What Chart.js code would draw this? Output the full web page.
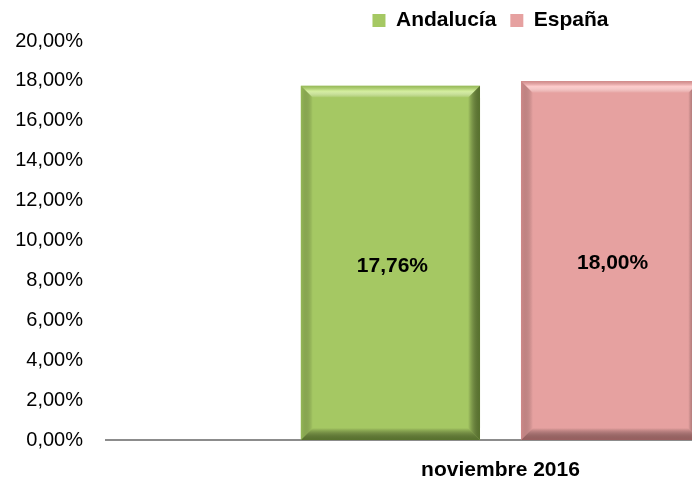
<!DOCTYPE html>
<html>
<head>
<meta charset="utf-8">
<script src="https://cdn.jsdelivr.net/npm/chart.js@4.4.1/dist/chart.umd.min.js"></script>
<style>
  html, body { margin: 0; padding: 0; background: #fff; }
  #frame { width: 692px; height: 482px; overflow: hidden; position: relative; }
  #wrap { width: 895px; height: 482px; position: absolute; left: 0; top: 0; }
</style>
</head>
<body>
<div id="frame"><div id="wrap"><canvas id="chart"></canvas></div></div>
<script>
const categories = ['noviembre 2016'];
const andalucia = [17.76];
const espana = [18.00];
const yTicks = { min: 0, max: 20, step: 2 };

const pct = (v) => v.toFixed(2).replace('.', ',') + '%';
const sans = "'Liberation Sans', Arial, sans-serif";

// shade helper for the bevel look
function bevelColors(i) {
    return i === 0
        ? { light: 'rgba(214,240,160,0.95)', dark: 'rgba(80,105,40,0.9)', side: 'rgba(140,175,80,0.6)' }
        : { light: 'rgba(255,205,205,0.95)', dark: 'rgba(140,85,85,0.85)', side: 'rgba(190,120,120,0.55)' };
}

const bevelPlugin = {
    id: 'bevel',
    afterDatasetsDraw(chart) {
        const ctx = chart.ctx;
        chart.data.datasets.forEach((ds, i) => {
            const meta = chart.getDatasetMeta(i);
            const c = bevelColors(i);
            meta.data.forEach(bar => {
                const { x, y, base, width } = bar.getProps(['x', 'y', 'base', 'width'], true);
                const l = x - width / 2, r = x + width / 2, t = y, b = base;
                const s = 12;
                ctx.save();
                // top
                let g = ctx.createLinearGradient(0, t, 0, t + s);
                g.addColorStop(0, c.side);
                g.addColorStop(0.45, c.light);
                g.addColorStop(1, 'rgba(255,255,255,0)');
                ctx.fillStyle = g;
                ctx.beginPath();
                ctx.moveTo(l, t); ctx.lineTo(r, t); ctx.lineTo(r - s, t + s); ctx.lineTo(l + s, t + s); ctx.closePath();
                ctx.fill();
                // right
                g = ctx.createLinearGradient(r - s, 0, r, 0);
                g.addColorStop(0, 'rgba(0,0,0,0)');
                g.addColorStop(1, c.dark);
                ctx.fillStyle = g;
                ctx.beginPath();
                ctx.moveTo(r, t); ctx.lineTo(r, b); ctx.lineTo(r - s, b - s); ctx.lineTo(r - s, t + s); ctx.closePath();
                ctx.fill();
                // bottom
                g = ctx.createLinearGradient(0, b - s, 0, b);
                g.addColorStop(0, 'rgba(0,0,0,0)');
                g.addColorStop(1, c.dark);
                ctx.fillStyle = g;
                ctx.beginPath();
                ctx.moveTo(l, b); ctx.lineTo(r, b); ctx.lineTo(r - s, b - s); ctx.lineTo(l + s, b - s); ctx.closePath();
                ctx.fill();
                // left
                g = ctx.createLinearGradient(l, 0, l + s, 0);
                g.addColorStop(0, c.side);
                g.addColorStop(1, 'rgba(0,0,0,0)');
                ctx.fillStyle = g;
                ctx.beginPath();
                ctx.moveTo(l, t); ctx.lineTo(l + s, t + s); ctx.lineTo(l + s, b - s); ctx.lineTo(l, b); ctx.closePath();
                ctx.fill();
                ctx.restore();
            });
        });
    }
};

// value labels in the middle of each bar
const valueLabels = {
    id: 'valueLabels',
    afterDatasetsDraw(chart) {
        const ctx = chart.ctx;
        ctx.save();
        ctx.font = 'bold 21px ' + sans;
        ctx.fillStyle = '#000';
        ctx.textAlign = 'center';
        ctx.textBaseline = 'middle';
        chart.data.datasets.forEach((ds, i) => {
            chart.getDatasetMeta(i).data.forEach((bar, j) => {
                const { x, y, base } = bar.getProps(['x', 'y', 'base'], true);
                ctx.fillText(pct(ds.data[j]), x + 2, (y + base) / 2 + 3);
            });
        });
        ctx.restore();
    }
};

// nudge the legend a little left, like the original
const legendShift = {
    id: 'legendShift',
    afterLayout(chart) {
        if (chart.legend) {
            chart.legend.left -= 10;
            chart.legend.right -= 10;
        }
    }
};

new Chart(document.getElementById('chart'), {
    type: 'bar',
    data: {
        labels: categories,
        datasets: [
            { label: 'Andalucía', data: andalucia, backgroundColor: '#a5c863', borderWidth: 0 },
            { label: 'España', data: espana, backgroundColor: '#e6a1a0', borderWidth: 0 }
        ]
    },
    options: {
        responsive: true,
        maintainAspectRatio: false,
        animation: false,
        layout: { padding: { top: -4, left: 0, right: 0, bottom: 0 } },
        datasets: { bar: { categoryPercentage: 0.558, barPercentage: 0.814 } },
        plugins: {
            legend: {
                position: 'top',
                fullSize: false,
                labels: {
                    boxWidth: 13,
                    boxHeight: 13,
                    padding: 14,
                    color: '#000',
                    font: { family: sans, size: 21, weight: 'bold' }
                }
            },
            tooltip: { enabled: false }
        },
        scales: {
            x: {
                grid: { display: false, drawTicks: false },
                border: { display: true, color: '#8c8c8c', width: 2 },
                ticks: { color: '#000', padding: 18, font: { family: sans, size: 21, weight: 'bold' } },
                afterFit: (s) => { s.height = 42; }
            },
            y: {
                min: yTicks.min,
                max: yTicks.max,
                grid: { display: false, drawTicks: false },
                border: { display: false },
                ticks: {
                    stepSize: yTicks.step,
                    color: '#000',
                    padding: 23,
                    font: { family: sans, size: 20 },
                    callback: (v) => pct(v)
                },
                afterFit: (s) => { s.width = 106; }
            }
        }
    },
    plugins: [bevelPlugin, valueLabels, legendShift]
});
</script>
</body>
</html>
